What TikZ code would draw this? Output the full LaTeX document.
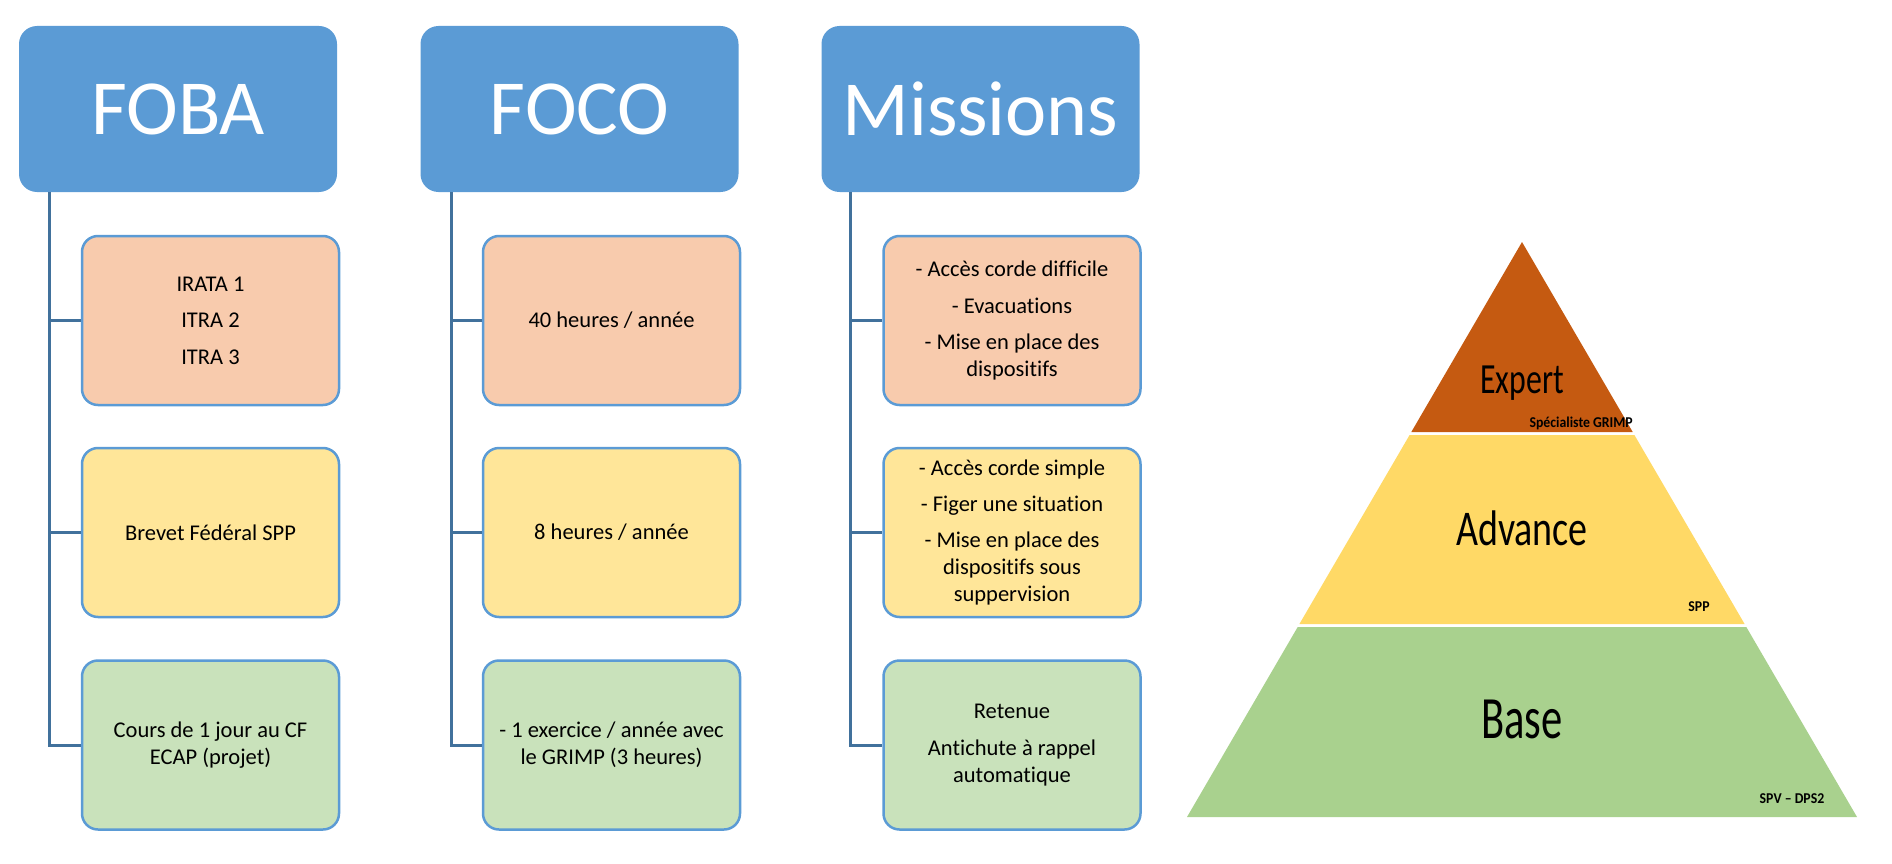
\documentclass[tikz,border=0pt]{standalone}
\usepackage{fontspec}
\setmainfont{Carlito}[Ligatures={NoCommon}]
\definecolor{hdrblue}{HTML}{5B9BD5}
\definecolor{bordblue}{HTML}{5B9BD5}
\definecolor{connblue}{HTML}{41719C}
\definecolor{orangefill}{HTML}{F8CBAD}
\definecolor{yellowfill}{HTML}{FFE699}
\definecolor{greenfill}{HTML}{C9E2BB}
\definecolor{expertc}{HTML}{C55A11}
\definecolor{advancec}{HTML}{FFD966}
\definecolor{basec}{HTML}{A9D18E}
\begin{document}
\begin{tikzpicture}[x=1pt,y=-1pt,
  hdr/.style={fill=hdrblue, rounded corners=18pt, minimum width=318pt, minimum height=166pt,
    text=white, font=\fontsize{78}{90}\selectfont, inner sep=0pt},
  sub/.style={draw=bordblue, line width=2.5pt, rounded corners=16pt, minimum width=257pt,
    minimum height=169pt, align=center, font=\fontsize{22.5}{27}\selectfont, inner sep=0pt},
  conn/.style={draw=connblue, line width=3pt},
  pyrbig/.style={anchor=base, inner sep=0pt},
  pyrsmall/.style={inner sep=0pt, font=\bfseries\fontsize{15}{18}\selectfont}
]
\useasboundingbox (0,0) rectangle (1892,864);

% headers
\node[hdr] (h1) at (178,109) {FOBA};
\node[hdr] (h2) at (579.5,109) {FOCO};
\node[hdr] (h3) at (980.5,109) {Missions};

% sub boxes column 1
\node[sub, fill=orangefill] (b11) at (210.5,320.5) {IRATA 1\\[9.5pt] ITRA 2\\[9.5pt] ITRA 3};
\node[sub, fill=yellowfill] (b12) at (210.5,532.5) {Brevet Fédéral SPP};
\node[sub, fill=greenfill] (b13) at (210.5,745) {Cours de 1 jour au CF\\ ECAP (projet)};
% column 2
\node[sub, fill=orangefill] (b21) at (611.5,320.5) {40 heures / année};
\node[sub, fill=yellowfill] (b22) at (611.5,532.5) {8 heures / année};
\node[sub, fill=greenfill] (b23) at (611.5,745) {- 1 exercice / année avec\\ le GRIMP (3 heures)};
% column 3
\node[sub, fill=orangefill] (b31) at (1012,320.5) {- Accès corde difficile\\[9.5pt] - Evacuations\\[9.5pt] - Mise en place des\\ dispositifs};
\node[sub, fill=yellowfill] (b32) at (1012,532.5) {- Accès corde simple\\[9pt] - Figer une situation\\[9pt] - Mise en place des\\ dispositifs sous\\ suppervision};
\node[sub, fill=greenfill] (b33) at (1012,745) {Retenue\\[9.5pt] Antichute à rappel\\ automatique};

% connectors
\coordinate (c1) at ([xshift=31pt]h1.south west);
\coordinate (c2) at ([xshift=31pt]h2.south west);
\coordinate (c3) at ([xshift=29pt]h3.south west);
\draw[conn] (c1) |- (b13.west);
\draw[conn] (c1 |- b11.west) -- (b11.west);
\draw[conn] (c1 |- b12.west) -- (b12.west);
\draw[conn] (c2) |- (b23.west);
\draw[conn] (c2 |- b21.west) -- (b21.west);
\draw[conn] (c2 |- b22.west) -- (b22.west);
\draw[conn] (c3) |- (b33.west);
\draw[conn] (c3 |- b31.west) -- (b31.west);
\draw[conn] (c3 |- b32.west) -- (b32.west);

% pyramid
\fill[expertc] (1522,242) -- (1632.7,432) -- (1411.3,432) -- cycle;
\fill[advancec] (1409.6,435) -- (1634.4,435) -- (1744.6,624) -- (1299.4,624) -- cycle;
\fill[basec] (1297.7,627) -- (1746.3,627) -- (1857,817) -- (1187,817) -- cycle;

\node[pyrbig, font=\fontsize{43}{50}\selectfont] (expert) at (1522,393) {\scalebox{0.74}[1]{Expert}};
\node[pyrbig, font=\fontsize{50}{58}\selectfont] (advance) at (1522,545) {\scalebox{0.76}[1]{Advance}};
\node[pyrbig, font=\fontsize{60}{70}\selectfont] (base) at (1522,738) {\scalebox{0.71}[1]{Base}};

\node[pyrsmall, anchor=base east] (spec) at (1633,427) {\scalebox{0.92}[1]{Spécialiste GRIMP}};
\node[pyrsmall, anchor=base] (spp) at (1699,611) {\scalebox{0.92}[1]{SPP}};
\node[pyrsmall, anchor=base] (spv) at (1792,803) {\scalebox{0.92}[1]{SPV – DPS2}};
\end{tikzpicture}
\end{document}
